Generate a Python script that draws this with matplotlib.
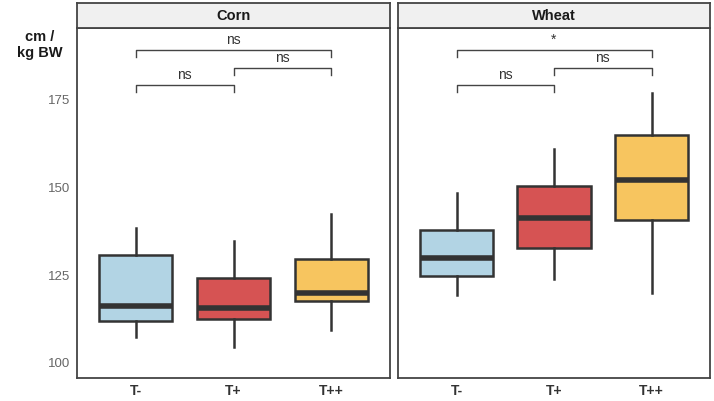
import matplotlib
matplotlib.use('Agg')
import matplotlib.pyplot as plt

plt.rcParams['font.family'] = ['Liberation Sans', 'DejaVu Sans']

# data
groups = ['T-', 'T+', 'T++']
panels = ['Corn', 'Wheat']
box_colors = ['#b2d4e4', '#d65353', '#f7c55f']

corn_q1 = [111.9, 112.4, 117.6]
corn_med = [116.2, 115.5, 120.0]
corn_q3 = [130.7, 124.3, 129.5]
corn_lo = [107.5, 104.4, 109.4]
corn_hi = [138.4, 134.8, 142.4]

wheat_q1 = [124.8, 132.6, 140.7]
wheat_med = [129.9, 141.4, 152.0]
wheat_q3 = [138.0, 150.3, 164.8]
wheat_lo = [119.3, 123.8, 120.0]
wheat_hi = [148.3, 160.9, 177.0]

# comparisons: (from, to, bracket height)
pairs = [(0, 1, 179.2), (1, 2, 184.0), (0, 2, 189.2)]
corn_sig = ['ns', 'ns', 'ns']
wheat_sig = ['ns', 'ns', '*']

yticks = [100, 125, 150, 175]

data = {
    'Corn': (corn_q1, corn_med, corn_q3, corn_lo, corn_hi, corn_sig),
    'Wheat': (wheat_q1, wheat_med, wheat_q3, wheat_lo, wheat_hi, wheat_sig),
}

W, H = 714, 401
fig = plt.figure(figsize=(7.14, 4.01), dpi=100)

edge = '#333333'
panel_x = [(77, 390), (398, 710)]
top_px, strip_px, bot_px = 3, 28, 378

for k, name in enumerate(panels):
    x0, x1 = panel_x[k]
    ax = fig.add_axes([x0 / W, 1 - bot_px / H, (x1 - x0) / W, (bot_px - strip_px) / H])
    sax = fig.add_axes([x0 / W, 1 - strip_px / H, (x1 - x0) / W, (strip_px - top_px) / H])

    q1, med, q3, lo, hi, sig = data[name]
    stats = []
    for i in range(3):
        stats.append(dict(med=med[i], q1=q1[i], q3=q3[i], whislo=lo[i], whishi=hi[i], fliers=[]))
    bp = ax.bxp(stats, positions=[1, 2, 3], widths=0.75, patch_artist=True, showcaps=False,
                boxprops=dict(edgecolor=edge, linewidth=1.8),
                medianprops=dict(color=edge, linewidth=4, solid_capstyle='butt'),
                whiskerprops=dict(color=edge, linewidth=1.8))
    for patch, c in zip(bp['boxes'], box_colors):
        patch.set_facecolor(c)

    for (a, b, h), s in zip(pairs, sig):
        xa, xb = a + 1, b + 1
        ax.plot([xa, xa, xb, xb], [h - 2.0, h, h, h - 2.0], color='#444444', lw=1.0)
        ax.text((xa + xb) / 2, h + 0.8, s, ha='center', va='bottom', fontsize=10, color='#333333')

    ax.set_xlim(0.4, 3.6)
    ax.set_ylim(95.7, 195.4)
    ax.set_xticks([1, 2, 3])
    ax.set_xticklabels(groups, fontsize=10, fontweight='bold', color='#333333')
    ax.tick_params(axis='x', length=0, pad=4)
    ax.tick_params(axis='y', length=0, pad=5)
    if k == 0:
        ax.set_yticks(yticks)
        ax.set_yticklabels([str(t) for t in yticks], fontsize=9.5, color='#666666')
    else:
        ax.set_yticks([])
    for sp in ax.spines.values():
        sp.set_edgecolor('#444444')
        sp.set_linewidth(1.3)

    sax.set_facecolor('#f0f0f0')
    sax.set_xticks([])
    sax.set_yticks([])
    for sp in sax.spines.values():
        sp.set_edgecolor('#444444')
        sp.set_linewidth(1.3)
    sax.text(0.5, 0.5, name, ha='center', va='center', fontsize=10.5, fontweight='bold',
             color='#1a1a1a', transform=sax.transAxes)

fig.text(40 / W, 1 - 45 / H, 'cm /\nkg BW', ha='center', va='center', fontsize=10.5,
         fontweight='bold', color='#1a1a1a', linespacing=1.1)

fig.savefig('out.png', dpi=100, facecolor='white')
